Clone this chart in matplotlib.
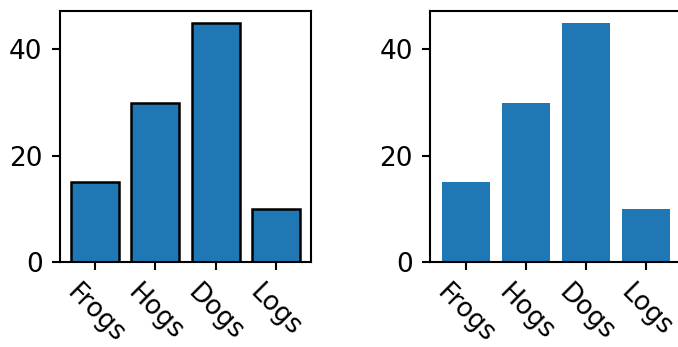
import matplotlib
matplotlib.use('Agg')
import matplotlib.pyplot as plt

animals = ['Frogs', 'Hogs', 'Dogs', 'Logs']
counts = [15, 30, 45, 10]

plt.rcParams['font.family'] = 'DejaVu Sans'
plt.rcParams['font.size'] = 19
plt.rcParams['axes.linewidth'] = 1.5
plt.rcParams['xtick.major.size'] = 6
plt.rcParams['ytick.major.size'] = 6
plt.rcParams['xtick.major.width'] = 1.5
plt.rcParams['ytick.major.width'] = 1.5
plt.rcParams['xtick.major.pad'] = 6.5
plt.rcParams['ytick.major.pad'] = 6.5

fig = plt.figure(figsize=(6.78, 3.47), dpi=100)
ax1 = fig.add_axes([60/678, 1-262.3/347, 251/678, 251.6/347])
ax2 = fig.add_axes([430.3/678, 1-262.3/347, 251/678, 251.6/347])

ax1.bar(animals, counts, edgecolor='black', linewidth=1.8)
ax2.bar(animals, counts)

for ax in (ax1, ax2):
    ax.set_yticks([0, 20, 40])
    plt.setp(ax.get_xticklabels(), rotation=-45)

fig.savefig('out.png', dpi=100)
